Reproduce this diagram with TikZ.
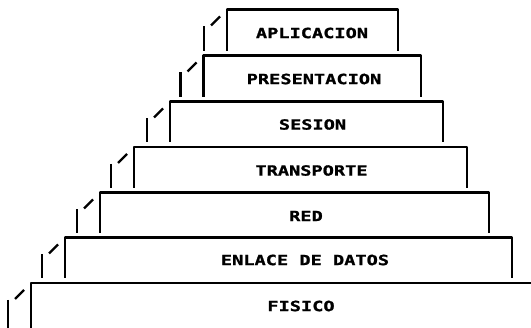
\documentclass[tikz,border=0pt]{standalone}
\usepackage{fontspec}
\newfontfamily\lyrfont{DejaVu Sans Mono}[FakeStretch=1.33, BoldFeatures={FakeBold=1.2}]
\newcommand\layerbox[4]{% L, T, R, B
  \draw[wall] (#1,#4) -- (#1,#2) -- (#3,#2) -- (#3,#4);
  \draw[hidden] ({#1-23},{#2+17}) -- ({#1-23},#4);
  \draw[hidden] ({#1-16},{#2+16}) -- ({#1-7},{#2+7});
}
\begin{document}
\begin{tikzpicture}[x=1pt,y=-1pt,
  wall/.style={line width=2.5pt, line join=round, line cap=butt},
  hidden/.style={line width=2.3pt},
  layer/.style={font=\lyrfont\bfseries\fontsize{14}{14}\selectfont, inner sep=0pt, anchor=center}]
\useasboundingbox (0,0) rectangle (531,328);
\clip (0,0) rectangle (531,328);
\fill[white] (0,0) rectangle (531,328);
% boxes: left, top, right, bottom
\layerbox{227}{9.5}{398}{51}
\layerbox{203.5}{55.5}{421}{97}
\layerbox{170}{101.5}{443}{142}
\layerbox{134}{147}{467}{188}
\layerbox{100}{192.5}{489}{233}
\layerbox{65}{237.5}{512}{278}
\layerbox{31}{283}{560}{340}
% labels
\node[layer] (apl) at (312,33) {APLICACION};
\node[layer] (pre) at (314,79) {PRESENTACION};
\node[layer] (ses) at (312.5,124.5) {SESION};
\node[layer] (tra) at (311.5,170.5) {TRANSPORTE};
\node[layer] (red) at (306,216) {RED};
\node[layer] (enl) at (305,260) {ENLACE DE DATOS};
\node[layer] (fis) at (301,306) {FISICO};
\end{tikzpicture}
\end{document}
